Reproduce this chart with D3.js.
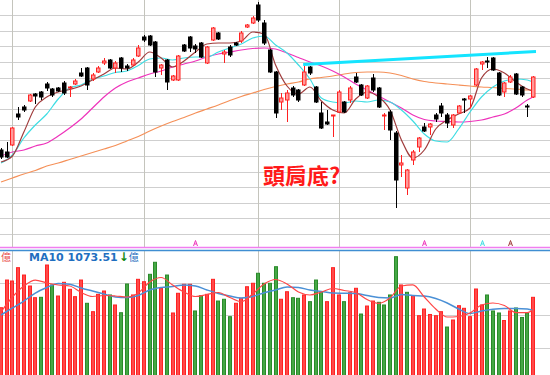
<!DOCTYPE html>
<html>
<head>
<meta charset="utf-8">
<script src="https://cdnjs.cloudflare.com/ajax/libs/d3/7.8.5/d3.min.js"></script>
<style>
    body { margin: 0; background: #fff; }
</style>
</head>
<body>
<div id="chart"></div>
<script>

// Daily candles (94 trading days)
var opens = [8200, 8196, 8210, 8272, 8286, 8298, 8312, 8316, 8332, 8322,
    8324, 8334, 8324, 8332, 8354, 8364, 8342, 8356, 8374, 8380,
    8364, 8384, 8368, 8370, 8388, 8426, 8428, 8416, 8364, 8380,
    8340, 8340, 8410, 8426, 8408, 8414, 8374, 8420, 8434, 8392,
    8406, 8414, 8418, 8446, 8454, 8490, 8454, 8400, 8356, 8296,
    8300, 8324, 8320, 8330, 8366, 8326, 8274, 8256, 8268, 8276,
    8296, 8300, 8346, 8330, 8304, 8344, 8324, 8268, 8276, 8234,
    8170, 8124, 8180, 8206, 8246, 8246, 8270, 8288, 8270, 8250,
    8274, 8302, 8302, 8330, 8372, 8378, 8384, 8354, 8316, 8336,
    8352, 8326, 8288, 8306];
var highs = [8204, 8216, 8246, 8286, 8290, 8312, 8314, 8318, 8336, 8324,
    8326, 8338, 8328, 8342, 8364, 8366, 8354, 8368, 8384, 8382,
    8378, 8386, 8372, 8384, 8410, 8430, 8430, 8418, 8372, 8382,
    8350, 8390, 8412, 8428, 8412, 8416, 8408, 8446, 8436, 8400,
    8410, 8416, 8438, 8452, 8468, 8496, 8460, 8402, 8358, 8314,
    8320, 8328, 8322, 8368, 8368, 8328, 8296, 8280, 8270, 8320,
    8298, 8328, 8354, 8332, 8330, 8352, 8326, 8274, 8280, 8238,
    8190, 8162, 8200, 8226, 8254, 8254, 8274, 8294, 8274, 8272,
    8290, 8304, 8310, 8364, 8378, 8386, 8386, 8356, 8336, 8350,
    8354, 8328, 8292, 8348];
var lows = [8182, 8184, 8208, 8260, 8276, 8296, 8292, 8300, 8318, 8306,
    8316, 8310, 8306, 8330, 8346, 8320, 8338, 8354, 8370, 8362,
    8354, 8356, 8358, 8368, 8386, 8416, 8408, 8346, 8350, 8320,
    8338, 8338, 8396, 8396, 8394, 8384, 8372, 8418, 8420, 8374,
    8386, 8408, 8414, 8444, 8452, 8456, 8410, 8354, 8264, 8280,
    8256, 8306, 8296, 8328, 8350, 8294, 8242, 8250, 8226, 8274,
    8274, 8294, 8334, 8308, 8302, 8316, 8284, 8240, 8220, 8084,
    8146, 8110, 8170, 8196, 8236, 8230, 8256, 8266, 8244, 8244,
    8272, 8274, 8284, 8328, 8360, 8364, 8358, 8308, 8306, 8334,
    8310, 8306, 8266, 8304];
var closes = [8186, 8186, 8244, 8266, 8280, 8310, 8308, 8306, 8324, 8310,
    8318, 8314, 8326, 8338, 8348, 8330, 8350, 8364, 8378, 8364,
    8374, 8364, 8364, 8380, 8404, 8420, 8410, 8356, 8370, 8336,
    8348, 8388, 8398, 8404, 8402, 8386, 8406, 8444, 8422, 8396,
    8390, 8410, 8434, 8450, 8464, 8460, 8414, 8356, 8274, 8304,
    8314, 8310, 8300, 8356, 8354, 8296, 8244, 8252, 8270, 8316,
    8276, 8324, 8336, 8310, 8328, 8320, 8286, 8270, 8240, 8140,
    8174, 8160, 8196, 8224, 8238, 8252, 8262, 8274, 8254, 8270,
    8288, 8300, 8308, 8362, 8376, 8376, 8360, 8310, 8334, 8346,
    8312, 8310, 8286, 8346];

// Volume in 億, and whether the bar is red (1) or green (0)
var volumes = [1112, 1538, 1523, 1728, 1615, 1446, 1266, 1272, 1769, 1462,
    1292, 1503, 1395, 1282, 1538, 1180, 1051, 1318, 1369, 1308,
    1154, 1035, 1477, 1308, 1549, 1512, 1626, 1811, 1411, 1615,
    1031, 1334, 1472, 1472, 1062, 1297, 1318, 1549, 1215, 1242,
    974, 1180, 1257, 1435, 1488, 1642, 1488, 1488, 1743, 1242,
    1358, 1266, 1257, 1308, 1205, 1538, 1358, 1205, 1728, 1308,
    1205, 1343, 1411, 1015, 1138, 1215, 1195, 1154, 1308, 1897,
    1462, 1349, 1297, 989, 1092, 1008, 989, 1051, 815, 923,
    1143, 1103, 974, 1400, 1154, 1308, 1062, 1031, 915, 1062,
    1108, 962, 1028, 1272];
var volUp = [1, 1, 1, 1, 1, 1, 1, 0, 1, 0,
    1, 1, 1, 1, 1, 0, 1, 1, 1, 0,
    1, 0, 0, 1, 1, 1, 0, 0, 1, 0,
    1, 1, 1, 1, 0, 0, 1, 1, 0, 0,
    0, 1, 1, 1, 1, 0, 0, 0, 0, 1,
    1, 0, 0, 1, 0, 0, 0, 1, 1, 1,
    0, 1, 1, 0, 1, 1, 0, 0, 0, 0,
    1, 0, 1, 1, 1, 1, 1, 1, 0, 1,
    1, 1, 1, 1, 1, 0, 0, 0, 1, 1,
    0, 0, 0, 1];

// Moving averages read every second day, plus the last day
var ma5 = [8176, 8188, 8236, 8286, 8306, 8316, 8321, 8328, 8340, 8352, 8364, 8362,
    8376, 8396, 8384, 8366, 8378, 8396, 8412, 8414, 8414, 8418, 8436, 8432,
    8370, 8328, 8312, 8326, 8298, 8280, 8274, 8302, 8316, 8306, 8280, 8220,
    8184, 8200, 8242, 8260, 8272, 8284, 8344, 8362, 8354, 8336, 8322, 8318];
var ma10 = [8174, 8190, 8224, 8250, 8272, 8302, 8324, 8330, 8342, 8348, 8355, 8358,
    8369, 8382, 8384, 8380, 8384, 8386, 8386, 8396, 8404, 8412, 8424, 8428,
    8410, 8394, 8370, 8342, 8304, 8296, 8294, 8298, 8296, 8300, 8296, 8280,
    8258, 8232, 8218, 8216, 8242, 8276, 8306, 8326, 8338, 8342, 8340, 8336];
var ma20 = [8188, 8196, 8200, 8208, 8214, 8228, 8244, 8262, 8284, 8306, 8324, 8336,
    8344, 8352, 8358, 8366, 8372, 8378, 8386, 8392, 8396, 8400, 8403, 8404,
    8402, 8394, 8385, 8376, 8368, 8358, 8346, 8332, 8320, 8308, 8296, 8284,
    8270, 8261, 8258, 8257, 8256, 8257, 8260, 8266, 8272, 8284, 8300, 8306];
var ma60 = [8136, 8144, 8152, 8159, 8168, 8174, 8181, 8188, 8195, 8202, 8209, 8218,
    8227, 8238, 8248, 8257, 8265, 8274, 8282, 8290, 8299, 8307, 8314, 8321,
    8327, 8332, 8336, 8342, 8345, 8348, 8352, 8355, 8356, 8356, 8354, 8349,
    8342, 8337, 8334, 8332, 8330, 8328, 8326, 8325, 8323, 8322, 8320, 8320];
var volMa5 = [1046, 1277, 1446, 1538, 1492, 1462, 1446, 1346, 1285, 1300, 1292, 1277,
    1338, 1508, 1577, 1462, 1354, 1285, 1315, 1346, 1269, 1205, 1323, 1477,
    1546, 1477, 1354, 1308, 1354, 1408, 1377, 1346, 1238, 1180, 1262, 1446,
    1462, 1277, 1092, 969, 977, 1031, 1154, 1185, 1146, 1038, 1038, 1085];
var volMa10 = [1000, 1108, 1215, 1338, 1423, 1485, 1474, 1415, 1369, 1323, 1277, 1269,
    1300, 1385, 1423, 1438, 1462, 1446, 1385, 1331, 1292, 1262, 1285, 1343,
    1385, 1431, 1423, 1385, 1362, 1338, 1334, 1331, 1300, 1269, 1262, 1315,
    1300, 1292, 1254, 1185, 1092, 1023, 1062, 1089, 1100, 1100, 1092, 1073.51];

// First trading day of each month, the hand drawn neckline and the crossing marks
var monthStarts = [2, 25, 45, 59, 82];
var necklineDays = [53, 93];
var necklinePrices = [8371, 8397];
var signalDays = [34, 74, 84, 89];
var signalLines = ["ma20", "ma20", "ma10", "ma5"];

var maColors = {ma5: "#a03c3c", ma10: "#3fdde3", ma20: "#ee33bb", ma60: "#f59058"};

var width = 550, height = 375;
var days = d3.range(opens.length);
var maDays = d3.range(0, opens.length, 2).concat([opens.length - 1]);

var svg = d3.select("#chart")
    .append("svg")
    .attr("width", width)
    .attr("height", height)
    .style("font-family", "DejaVu Sans, sans-serif");

var x = d3.scaleLinear().domain([0, days.length - 1]).range([1, 533]);
var y = d3.scaleLinear().domain([8006, 8500]).range([247, 0]);
var yVol = d3.scaleLinear().domain([0, 2000]).range([380, 250]);

//Clip areas for the two panels
var defs = svg.append("defs");
defs.append("clipPath").attr("id", "clipMain")
    .append("rect").attr("x", 0).attr("y", 0).attr("width", width).attr("height", 247);
defs.append("clipPath").attr("id", "clipVol")
    .append("rect").attr("x", 0).attr("y", 251).attr("width", width).attr("height", 124);

//Grid lines
var priceGrid = d3.range(0, 15).map(function (k) {
    return 8470 - 31.3 * k;
});
svg.append("g").selectAll("line")
    .data(priceGrid)
    .enter().append("line")
    .attr("x1", 0).attr("x2", width)
    .attr("y1", function (d) { return Math.round(y(d)) + 0.5; })
    .attr("y2", function (d) { return Math.round(y(d)) + 0.5; })
    .style("stroke", "#cfcfcf");

svg.append("g").selectAll("line")
    .data([500, 1000, 1500])
    .enter().append("line")
    .attr("x1", 0).attr("x2", width)
    .attr("y1", function (d) { return Math.round(yVol(d)) + 0.5; })
    .attr("y2", function (d) { return Math.round(yVol(d)) + 0.5; })
    .style("stroke", "#cfcfcf");

var months = svg.append("g").selectAll("g")
    .data(monthStarts)
    .enter().append("g");
months.append("line")
    .attr("x1", function (d) { return Math.round(x(d)) + 0.5; })
    .attr("x2", function (d) { return Math.round(x(d)) + 0.5; })
    .attr("y1", 0).attr("y2", 247)
    .style("stroke", "#c4c4bc");
months.append("line")
    .attr("x1", function (d) { return Math.round(x(d)) + 0.5; })
    .attr("x2", function (d) { return Math.round(x(d)) + 0.5; })
    .attr("y1", 251).attr("y2", height)
    .style("stroke", "#c4c4bc");

//Panel borders
svg.append("line").attr("x1", 0).attr("x2", width).attr("y1", 247.5).attr("y2", 247.5)
    .style("stroke", "#f07ef0").style("stroke-width", 1.5);
svg.append("line").attr("x1", 0).attr("x2", width).attr("y1", 250.5).attr("y2", 250.5)
    .style("stroke", "#3f8ed2").style("stroke-width", 1.5);

var main = svg.append("g").attr("clip-path", "url(#clipMain)");

//Moving average lines
function maLine(values, scale) {
    return d3.line()
        .x(function (d, k) { return x(maDays[k]); })
        .y(function (d) { return scale(d); })
        .curve(d3.curveMonotoneX)(values);
}

main.append("path").attr("d", maLine(ma60, y))
    .style("fill", "none").style("stroke", maColors.ma60).style("stroke-width", 1.2);
main.append("path").attr("d", maLine(ma20, y))
    .style("fill", "none").style("stroke", maColors.ma20).style("stroke-width", 1.2);
main.append("path").attr("d", maLine(ma10, y))
    .style("fill", "none").style("stroke", maColors.ma10).style("stroke-width", 1.2);
main.append("path").attr("d", maLine(ma5, y))
    .style("fill", "none").style("stroke", maColors.ma5).style("stroke-width", 1.2);

//Candles
var candles = main.selectAll(".candle")
    .data(days)
    .enter().append("g")
    .attr("class", "candle");

candles.append("line")
    .attr("x1", function (i) { return Math.round(x(i)) + 0.5; })
    .attr("x2", function (i) { return Math.round(x(i)) + 0.5; })
    .attr("y1", function (i) { return y(highs[i]); })
    .attr("y2", function (i) { return y(lows[i]); })
    .style("stroke", function (i) { return closes[i] >= opens[i] ? "#ff2020" : "#000"; });

candles.append("rect")
    .attr("x", function (i) { return Math.round(x(i)) - 1.5; })
    .attr("y", function (i) { return y(Math.max(opens[i], closes[i])); })
    .attr("width", 3.5)
    .attr("height", function (i) { return Math.max(1, Math.abs(y(opens[i]) - y(closes[i]))); })
    .style("fill", function (i) { return closes[i] >= opens[i] ? "#ff9a9a" : "#000"; })
    .style("stroke", function (i) { return closes[i] >= opens[i] ? "#ff2020" : "#000"; })
    .style("stroke-width", 1);

//Neckline
main.append("line")
    .attr("x1", x(necklineDays[0]) - 1).attr("x2", x(necklineDays[1]) + 3)
    .attr("y1", y(necklinePrices[0])).attr("y2", y(necklinePrices[1]))
    .style("stroke", "#14e4ff").style("stroke-width", 3);

//Little crossing marks at the bottom of the price panel
svg.append("g").selectAll("path")
    .data(signalDays)
    .enter().append("path")
    .attr("d", function (d) {
        var cx = Math.round(x(d)) + 0.5;
        return "M" + (cx - 2) + ",246 L" + cx + ",240.5 L" + (cx + 2) + ",246 M" + (cx - 1) + ",244 L" + (cx + 1) + ",244";
    })
    .style("fill", "none")
    .style("stroke", function (d, k) { return maColors[signalLines[k]]; })
    .style("stroke-width", 1);

svg.append("text")
    .attr("x", 263).attr("y", 184)
    .style("font-family", "Noto Sans CJK TC")
    .style("font-size", "22px")
    .style("font-weight", "bold")
    .style("fill", "#ff1a1a")
    .text("頭肩底?");

//Volume panel
var vol = svg.append("g").attr("clip-path", "url(#clipVol)");

vol.selectAll(".bar")
    .data(days)
    .enter().append("rect")
    .attr("class", "bar")
    .attr("x", function (i) { return Math.round(x(i)) - 1.5; })
    .attr("y", function (i) { return yVol(volumes[i]); })
    .attr("width", 3)
    .attr("height", function (i) { return yVol(0) - yVol(volumes[i]); })
    .style("fill", function (i) { return volUp[i] ? "#ff4a4a" : "#45a845"; })
    .style("stroke", function (i) { return volUp[i] ? "#ff2222" : "#2a8a2a"; })
    .style("stroke-width", 1);

vol.append("path").attr("d", maLine(volMa10, yVol))
    .style("fill", "none").style("stroke", "#4a90d6").style("stroke-width", 1.5);
vol.append("path").attr("d", maLine(volMa5, yVol))
    .style("fill", "none").style("stroke", "#ff4646").style("stroke-width", 1.2);

//Volume header
svg.append("text")
    .attr("x", 1).attr("y", 261)
    .style("font-family", "Noto Sans CJK TC")
    .style("font-size", "10px")
    .style("fill", "#e85050")
    .text("億");

var header = svg.append("text")
    .attr("x", 29).attr("y", 261)
    .style("font-size", "11px")
    .style("font-weight", "bold");
header.append("tspan")
    .style("fill", "#1f6fc0")
    .text("MA10 " + d3.format(".2f")(volMa10[volMa10.length - 1]));
header.append("tspan")
    .attr("dx", 1)
    .style("font-size", "12px")
    .style("fill", "#118811")
    .text("↓");
header.append("tspan")
    .style("font-family", "Noto Sans CJK TC")
    .style("font-weight", "normal")
    .style("font-size", "10px")
    .style("fill", "#1f6fc0")
    .text("億");

</script>
</body>
</html>
